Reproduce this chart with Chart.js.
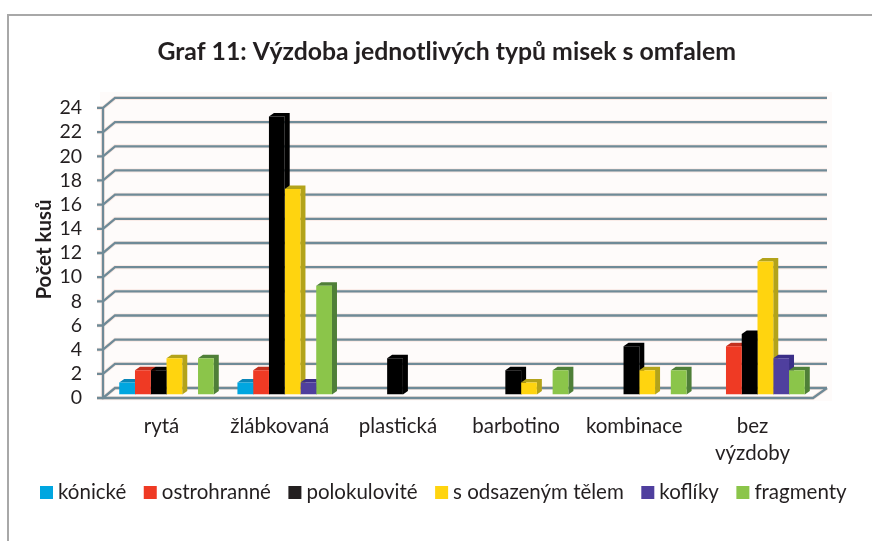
<!DOCTYPE html>
<html>
<head>
<meta charset="utf-8">
<style>
  html, body { margin: 0; padding: 0; background: #fff; }
  #wrap { width: 872px; height: 541px; }
</style>
<script src="https://cdn.jsdelivr.net/npm/chart.js@4"></script>
</head>
<body>
<div id="wrap"><canvas id="chart" width="872" height="541"></canvas></div>
<script>
const categories = ["rytá", "žlábkovaná", "plastická", "barbotino", "kombinace", ["bez", "výzdoby"]];
const konicke = [1, 1, 0, 0, 0, 0];
const ostrohranne = [2, 2, 0, 0, 0, 4];
const polokulovite = [2, 23, 3, 2, 4, 5];
const odsazene = [3, 17, 0, 1, 2, 11];
const kofliky = [0, 1, 0, 0, 0, 3];
const fragmenty = [3, 9, 0, 2, 2, 2];

const textColor = "#231f20";
const gridColor = "#6f8a97";
const haloColor = "#f9e8e2";
const font = "Lato";

// box depth in px: front axis is 3.5 below the bar base
const depth = { x: 12, y: 10, barX: 5, barY: 3.5, front: 3.5 };

function ds(label, data, face, side, swatch) {
  return { label, data, backgroundColor: face, sideColor: side, swatch: swatch || face,
    borderWidth: 0, categoryPercentage: 0.8, barPercentage: 1 };
}

// back wall, floor and axis of the fake 3d box, taken from the scales
const wallPlugin = {
  id: "wall",
  beforeDatasetsDraw(chart) {
    const c = chart.ctx, y = chart.scales.y, a = chart.chartArea;
    const left = a.left - 4.4, right = a.right - 3.6;
    const y0 = y.getPixelForValue(0) + depth.front;
    const yTop = y.getPixelForValue(24) + depth.front;
    const backRight = right + depth.x + 2;
    c.save();
    c.fillStyle = "#fefbfa";
    c.fillRect(left - 3, yTop - depth.y - 6, backRight - left + 8, y0 - yTop + depth.y + 9);
    c.lineJoin = "miter";
    const lines = [];
    y.ticks.forEach(t => {
      const py = y.getPixelForValue(t.value) + depth.front;
      lines.push([[left - 6, py], [left, py], [left + depth.x, py - depth.y], [backRight, py - depth.y]]);
    });
    lines.push([[left, yTop], [left, y0], [right, y0], [backRight, y0 - depth.y]]);
    [[haloColor, 4], [gridColor, 2.3]].forEach(([col, w]) => {
      c.strokeStyle = col;
      c.lineWidth = w;
      lines.forEach(l => {
        c.beginPath();
        l.forEach((p, i) => i ? c.lineTo(p[0], p[1]) : c.moveTo(p[0], p[1]));
        c.stroke();
      });
    });
    // side and top of the bars go under all the fronts
    chart.data.datasets.forEach((set, k) => {
      c.fillStyle = set.sideColor;
      chart.getDatasetMeta(k).data.forEach((b, i) => {
        if (!set.data[i]) return;
        const l = b.x - b.width / 2, r = b.x + b.width / 2;
        c.beginPath();
        c.moveTo(r, b.base);
        c.lineTo(r + depth.barX, b.base - depth.barY);
        c.lineTo(r + depth.barX, b.y - depth.barY);
        c.lineTo(l + depth.barX, b.y - depth.barY);
        c.lineTo(l, b.y);
        c.lineTo(r, b.y);
        c.fill();
      });
    });
    c.restore();
  }
};

// frame of the chart object and the legend row
const framePlugin = {
  id: "frame",
  afterLayout(chart) {
    // title sits right of the canvas centre
    chart.titleBlock.left += 22.5;
    chart.titleBlock.right += 22.5;
  },
  beforeDraw(chart) {
    const c = chart.ctx;
    c.save();
    c.strokeStyle = "#a8a8a8";
    c.lineWidth = 2;
    c.beginPath();
    c.moveTo(8, 541);
    c.lineTo(8, 15);
    c.lineTo(872, 15);
    c.stroke();
    c.restore();
  },
  afterDraw(chart) {
    const c = chart.ctx;
    let x = 40;
    c.save();
    c.font = "20.5px " + font;
    c.textBaseline = "middle";
    chart.data.datasets.forEach(set => {
      c.fillStyle = set.swatch;
      c.fillRect(x, 486, 13, 13);
      c.fillStyle = textColor;
      c.fillText(set.label, x + 18, 492);
      x += 18 + c.measureText(set.label).width + 17.5;
    });
    c.restore();
  }
};

new Chart(document.getElementById("chart"), {
  type: "bar",
  data: {
    labels: categories,
    datasets: [
      ds("kónické", konicke, "#00a6e0", "#0a86b8"),
      ds("ostrohranné", ostrohranne, "#ef3a24", "#c2301f"),
      ds("polokulovité", polokulovite, "#000000", "#000000", "#231f20"),
      ds("s odsazeným tělem", odsazene, "#ffd40f", "#b3a31a"),
      ds("koflíky", kofliky, "#4f3f9e", "#3b2f88"),
      ds("fragmenty", fragmenty, "#8bc54a", "#4f7f38")
    ]
  },
  plugins: [framePlugin, wallPlugin],
  options: {
    responsive: false,
    animation: false,
    layout: { padding: { left: 31.7, right: 55.4, top: 10, bottom: 74.5 } },
    scales: {
      x: {
        afterFit(s) { s.height = 72; },
        grid: { display: false, drawTicks: false },
        border: { display: false },
        ticks: { color: textColor, font: { family: font, size: 20.5, lineHeight: 1.32 }, maxRotation: 0, padding: 18, autoSkip: false, labelOffset: -5 }
      },
      y: {
        min: 0,
        max: 24,
        afterFit(s) { s.width = 75.7; },
        grid: { display: false, drawTicks: false },
        border: { display: false },
        ticks: { stepSize: 2, autoSkip: false, color: textColor, font: { family: font, size: 19.5 }, padding: 25.4, labelOffset: 3.5 },
        title: { display: true, text: "Počet kusů", color: textColor, font: { family: font, size: 20.5, weight: "bold" }, padding: { top: 0, bottom: 4.7 } }
      }
    },
    plugins: {
      title: {
        display: true,
        text: "Graf 11: Výzdoba jednotlivých typů misek s omfalem",
        color: textColor,
        font: { family: font, size: 24.8, weight: "bold" },
        padding: { top: 27, bottom: 37.7 }
      },
      legend: { display: false },
      tooltip: { enabled: false }
    }
  }
});
</script>
</body>
</html>
